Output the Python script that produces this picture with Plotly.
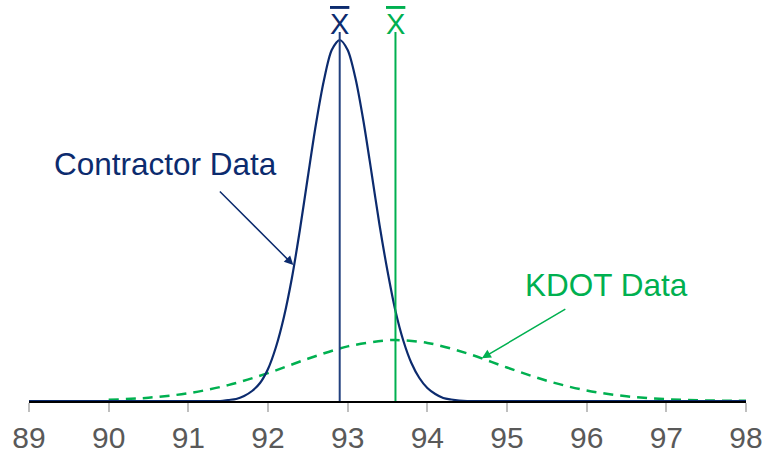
import plotly.graph_objects as go

# Contractor Data curve (y in relative height units)
contractor_x = [89.0, 90.0, 91.0, 91.4, 91.5, 91.6, 91.7, 91.8, 91.9, 92.0, 92.1, 92.2, 92.3, 92.4,
                92.5, 92.6, 92.7, 92.8, 92.9, 93.0, 93.1, 93.2, 93.3, 93.4, 93.5, 93.6, 93.7,
                93.8, 93.9, 94.0, 94.1, 94.2, 94.3, 94.4, 94.5, 95.0, 96.0, 97.0, 98.0]
contractor_y = [0, 0, 0, 0, 1, 2, 5, 10, 18, 32, 54, 84, 123, 171,
                224, 276, 320, 351, 361, 351, 322, 279, 228, 176, 130, 90, 60,
                38, 23, 13, 7, 3, 1.5, 0.5, 0, 0, 0, 0, 0]

# KDOT Data curve
kdot_x = [90.0, 90.5, 91.0, 91.5, 92.0, 92.5, 93.0, 93.5, 93.6, 94.0, 94.5, 95.0, 95.5,
          96.0, 96.5, 97.0, 97.5, 98.0]
kdot_y = [1.2, 3.3, 7.8, 15.9, 27.9, 42.2, 54.6, 60.8, 61, 58.1, 47.6, 33.5, 20.3,
          10.5, 4.7, 1.8, 0.6, 0.2]

# Means
contractor_mean = 92.9
kdot_mean = 93.6
mean_line_top = 369

x_ticks = [89, 90, 91, 92, 93, 94, 95, 96, 97, 98]

NAVY = "#0C2B6E"
NAVY_LINE = "#22407F"
GREEN = "#00B050"
FONT = "Liberation Sans, Arial, sans-serif"

fig = go.Figure()
fig.add_trace(go.Scatter(x=kdot_x, y=kdot_y, mode="lines",
                         line=dict(color=GREEN, width=2.5, dash="10px,7px", shape="spline"),
                         hoverinfo="skip"))
fig.add_trace(go.Scatter(x=contractor_x, y=contractor_y, mode="lines",
                         line=dict(color=NAVY, width=2.2, shape="spline", smoothing=0.8),
                         hoverinfo="skip"))
fig.add_trace(go.Scatter(x=[contractor_mean, contractor_mean], y=[0, mean_line_top], mode="lines",
                         line=dict(color=NAVY_LINE, width=2), hoverinfo="skip"))
fig.add_trace(go.Scatter(x=[kdot_mean, kdot_mean], y=[0, mean_line_top], mode="lines",
                         line=dict(color=GREEN, width=2), hoverinfo="skip"))

xbar = "<span style='text-decoration:overline'>X</span>"
annotations = [
    dict(x=contractor_mean, y=377, text=xbar, showarrow=False,
         font=dict(family=FONT, size=29, color=NAVY), xanchor="center", yanchor="middle"),
    dict(x=kdot_mean, y=377, text=xbar, showarrow=False,
         font=dict(family=FONT, size=29, color=GREEN), xanchor="center", yanchor="middle"),
    dict(x=90.712, y=237, text="Contractor Data", showarrow=False,
         font=dict(family=FONT, size=31.5, color=NAVY), xanchor="center", yanchor="middle"),
    dict(x=96.244, y=116, text="KDOT Data", showarrow=False,
         font=dict(family=FONT, size=31.5, color=GREEN), xanchor="center", yanchor="middle"),
    dict(x=92.318, y=136, ax=91.377, ay=211, axref="x", ayref="y", text="",
         showarrow=True, arrowhead=2, arrowsize=1.2, arrowwidth=1.5, arrowcolor=NAVY),
    dict(x=94.685, y=42.7, ax=95.751, ay=92.7, axref="x", ayref="y", text="",
         showarrow=True, arrowhead=2, arrowsize=1.2, arrowwidth=1.5, arrowcolor=GREEN),
]

fig.update_layout(
    width=765, height=455,
    margin=dict(l=28.5, r=19, t=0, b=54),
    paper_bgcolor="white", plot_bgcolor="white",
    showlegend=False,
    annotations=annotations,
    xaxis=dict(range=[89, 98], tickvals=x_ticks, ticktext=[str(t) for t in x_ticks],
               showgrid=False, zeroline=False, showline=True, linecolor="black", linewidth=2,
               ticks="outside", ticklen=9, tickwidth=1.5, tickcolor="#BFBFBF",
               tickfont=dict(family=FONT, size=30, color="#595959")),
    yaxis=dict(range=[0, 401], visible=False, showgrid=False, zeroline=False),
)

fig.write_html("out.html", config={"displayModeBar": False},
               post_script="document.body.style.margin='0px';")
